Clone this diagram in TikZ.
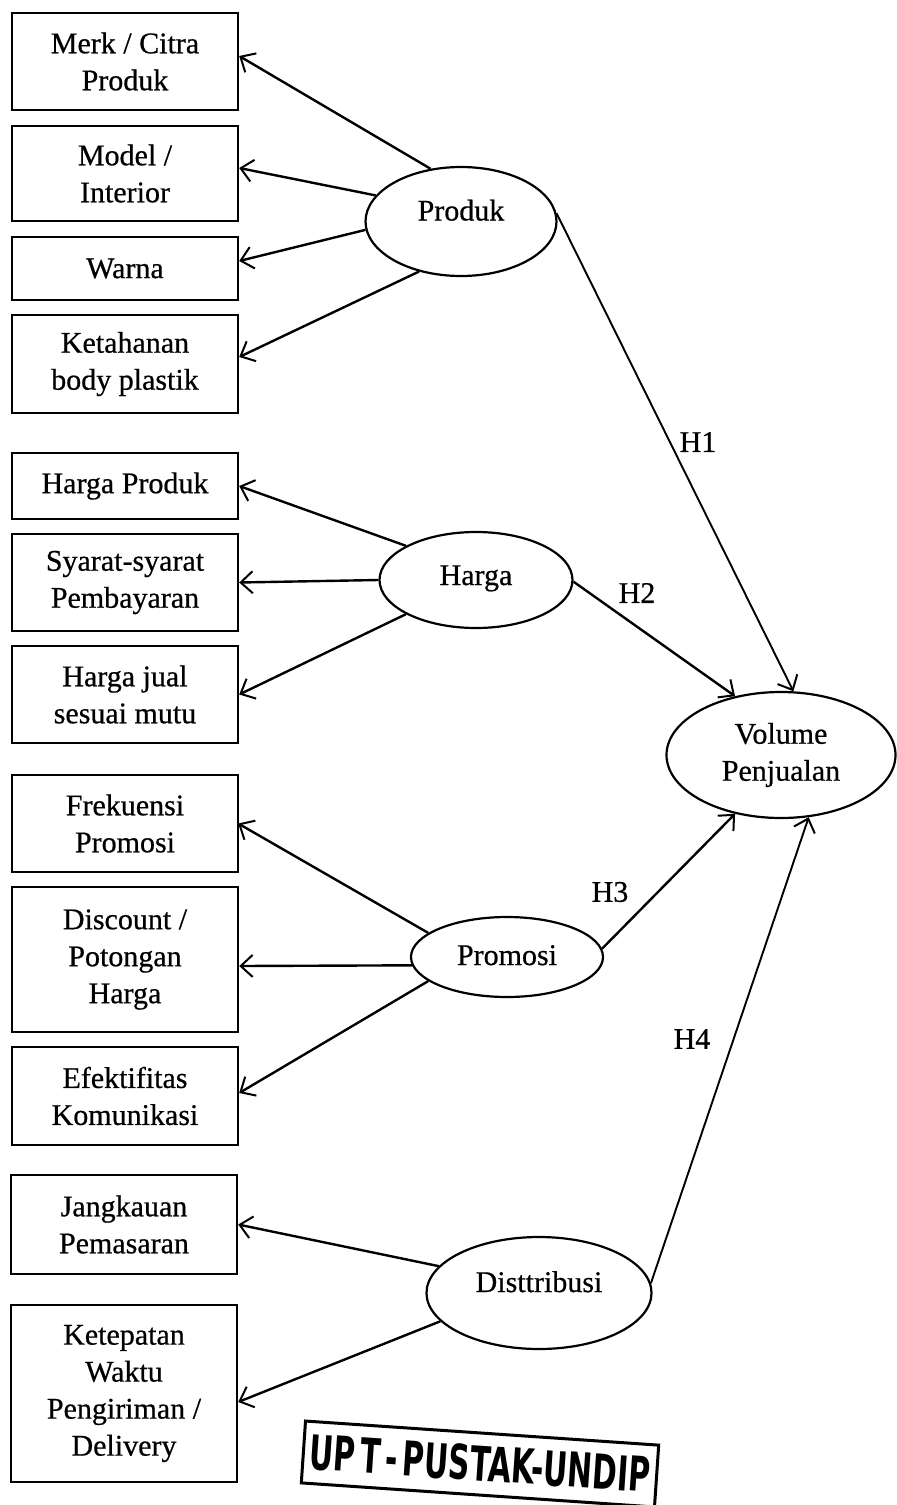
\documentclass[tikz,border=0pt]{standalone}
\usepackage{fontspec}
\setmainfont{Liberation Serif}[FakeBold=0.6]
\newfontfamily\stampfont{DejaVu Sans}
\usetikzlibrary{shapes.geometric,arrows.meta}
\tikzset{
  txt/.style={font=\fontsize{30}{37}\selectfont, align=center, inner sep=0pt},
  box/.style={txt, draw, line width=2.4pt, minimum width=226pt},
  ell/.style={txt, draw, ellipse, line width=2.2pt, text height=21pt},
  arr/.style={line width=2.4pt, -{Straight Barb[length=12pt,width=22pt,line width=2pt]}},
  thinarr/.style={arr, line width=1.9pt},
  hlab/.style={txt},
  stamp/.style={draw, line width=3pt, minimum width=354pt, minimum height=62pt, inner sep=0pt, rotate=-3.9}
}
\begin{document}
\begin{tikzpicture}[x=1pt,y=-1pt]
\useasboundingbox (0,0) rectangle (897,1505);
% indicator boxes
\node[box, minimum height=97pt] (b1) at (125,61.5) {Merk / Citra\\Produk};
\node[box, minimum height=95pt] (b2) at (125,173.5) {Model /\\Interior};
\node[box, minimum height=63pt] (b3) at (125,268.5) {Warna};
\node[box, minimum height=98pt] (b4) at (125,364) {Ketahanan\\body plastik};
\node[box, minimum height=66pt] (b5) at (125,486) {Harga Produk};
\node[box, minimum height=97pt] (b6) at (125,582.5) {Syarat-syarat\\Pembayaran};
\node[box, minimum height=97pt] (b7) at (125,694.5) {Harga jual\\sesuai mutu};
\node[box, minimum height=97pt] (b8) at (125,823.5) {Frekuensi\\Promosi};
\node[box, minimum height=145pt] (b9) at (125,959.5) {Discount /\\Potongan\\Harga};
\node[box, minimum height=98pt] (b10) at (125,1096) {Efektifitas\\Komunikasi};
\node[box, minimum height=99pt] (b11) at (124,1224.5) {Jangkauan\\Pemasaran};
\node[box, minimum height=177pt] (b12) at (124,1393.5) {Ketepatan\\Waktu\\Pengiriman /\\Delivery};
% latent variables
\node[ell, minimum width=191pt, minimum height=109pt, text depth=23pt] (prod) at (461,221.5) {Produk};
\node[ell, minimum width=193pt, minimum height=96pt, text depth=11pt] (harga) at (476,580) {Harga};
\node[ell, minimum width=192pt, minimum height=80pt, text depth=5pt] (prom) at (507,957) {Promosi};
\node[ell, minimum width=225pt, minimum height=112pt, text depth=23pt] (dist) at (539,1293) {Disttribusi};
\node[txt, draw, ellipse, line width=2.2pt, minimum width=229pt, minimum height=126pt] (vol) at (781,755) {Volume\\Penjualan};
% indicator arrows
\draw[arr] (prod.120) -- ([yshift=5.5pt]b1.east);
\draw[arr] (prod.163) -- ([yshift=5.5pt]b2.east);
\draw[arr] (prod.185) -- ([yshift=7.5pt]b3.east);
\draw[arr] (prod.230) -- ([yshift=7pt]b4.east);
\draw[arr] (harga.154) -- (b5.east);
\draw[arr] (harga.180) -- (b6.east);
\draw[arr] (harga.206) -- (b7.east);
\draw[arr] (prom.163) -- ([xshift=-1pt]b8.east);
\draw[arr] (prom.185) -- ([yshift=-6.5pt]b9.east);
\draw[arr] (prom.197) -- ([yshift=3pt]b10.east);
\draw[arr] (dist.165) -- (b11.east);
\draw[arr] (dist.196) -- ([yshift=-8.5pt]b12.east);
% hypothesis arrows
\draw[thinarr] (prod.5) -- (vol.79);
\draw[arr] (harga.359) -- (vol.128);
\draw[arr] (prom.5) -- (vol.232);
\draw[thinarr] (dist.5) -- (vol.294);
\node[hlab] (h1) at (698,442) {H1};
\node[hlab] (h2) at (637,593) {H2};
\node[hlab] (h3) at (610,892) {H3};
\node[hlab] (h4) at (692,1039) {H4};
% library stamp
\node[stamp] (st) at (480,1464) {\raisebox{2pt}{\scalebox{0.62}[1]{\stampfont\bfseries\fontsize{48}{48}\selectfont UP\,T\,-\,PUSTAK-UNDIP}}};
\end{tikzpicture}
\end{document}
